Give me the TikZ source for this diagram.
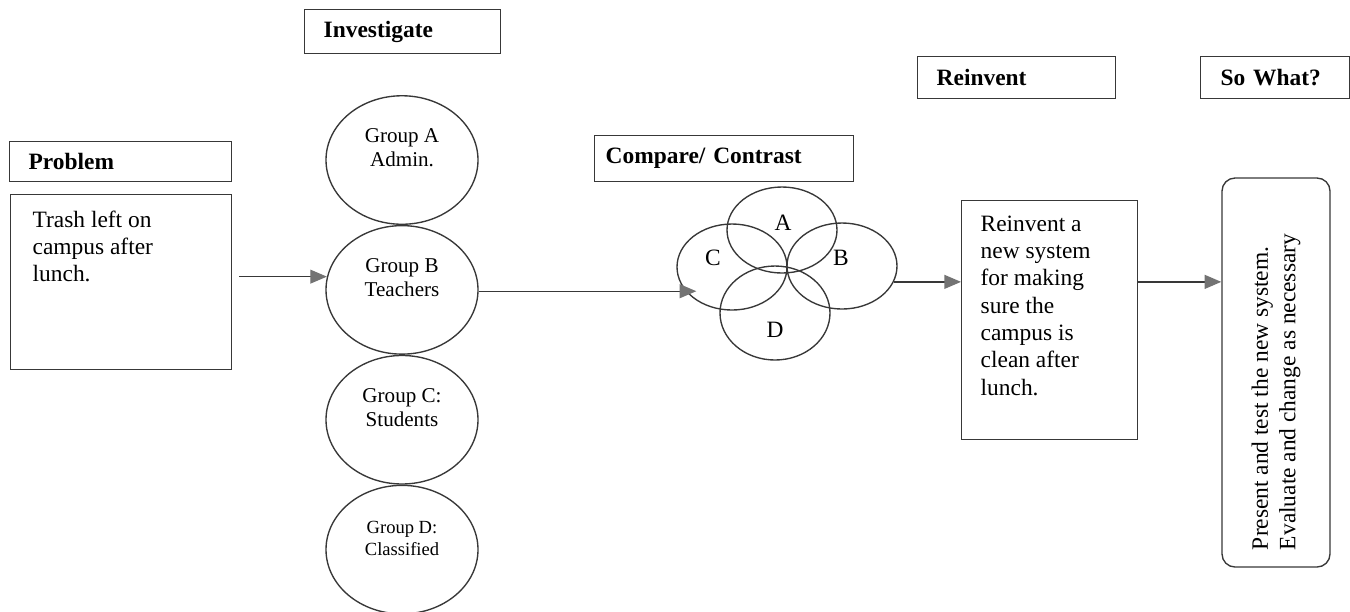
\documentclass[tikz,border=0pt]{standalone}
\usepackage{fontspec}
\setmainfont{Liberation Serif}
\usepackage{tikz}
\usetikzlibrary{positioning, shapes.geometric, arrows.meta}

% one unit = one pixel of the layout grid
\newlength{\pxl}
\setlength{\pxl}{0.018cm}

\definecolor{inkgray}{gray}{0.22}
\definecolor{tipgray}{gray}{0.45}

\tikzset{
    head/.style={draw=inkgray, line width=0.7pt, anchor=north west, align=left,
        inner xsep=19\pxl, inner ysep=0pt, minimum height=40\pxl,
        font=\fontsize{12}{14}\selectfont\bfseries},
    txtbox/.style={draw=inkgray, line width=0.7pt, anchor=north west,
        font=\fontsize{12}{14}\selectfont},
    grp/.style={draw=inkgray, line width=0.7pt, ellipse, inner sep=0pt,
        minimum width=152\pxl, minimum height=128.5\pxl, align=center,
        font=\fontsize{10.8}{12.5}\selectfont},
    venn/.style={draw=inkgray, line width=0.7pt, ellipse, inner sep=0pt,
        minimum width=110\pxl, minimum height=86\pxl},
    arr/.style={draw=inkgray, line width=0.7pt,
        -{Triangle[length=0.3cm, width=0.25cm, color=tipgray]}},
}

\begin{document}
\begin{tikzpicture}[x=0.018cm, y=-0.018cm]
    \useasboundingbox (0,0) rectangle (1350,611);

    % stage headings
    \node[head, text width=184\pxl] (prob) at (9,141) {Problem};
    \node[head, text width=158\pxl, minimum height=44\pxl] (invest) at (304,9) {Investigate};
    \node[head, text width=237\pxl, inner xsep=11\pxl, minimum height=46\pxl] (cmp) at (594,135) {Compare/ Contrast};
    \node[head, text width=160\pxl, minimum height=42\pxl] (reinvhead) at (917,56) {Reinvent};
    \node[head, text width=109\pxl, inner xsep=20\pxl, minimum height=42\pxl] (sowhat) at (1200,56) {So What?};

    % problem statement
    \node[txtbox, inner xsep=22\pxl, inner ysep=16\pxl] (probtxt) at (10,194)
        {\parbox[t][143\pxl][t]{177\pxl}{Trash left on\\campus after\\lunch.}};

    % the four groups, stacked
    \node[grp] (grpA) at (402,160) {Group A\\Admin.\\\mbox{}};
    \node[grp, below=0pt of grpA] (grpB) {Group B\\Teachers\\\mbox{}};
    \node[grp, below=0pt of grpB] (grpC) {Group C:\\Students\\\mbox{}};
    \node[grp, below=0pt of grpC, font=\fontsize{9.5}{11.5}\selectfont] (grpD) {Group D:\\Classified\\\mbox{}};

    % overlapping groups
    \node[venn] (vennA) at (782,230) {};
    \node[venn] (vennC) at (732,267) {};
    \node[venn] (vennB) at (842,266) {};
    \node[venn, minimum height=94\pxl] (vennD) at (775,313) {};
    \node[font=\fontsize{12}{14}\selectfont] (labA) at ([shift={(1,-7)}]vennA.center) {A};
    \node[font=\fontsize{12}{14}\selectfont] (labC) at ([shift={(-19,-9)}]vennC.center) {C};
    \node[font=\fontsize{12}{14}\selectfont] (labB) at ([shift={(-1,-8)}]vennB.center) {B};
    \node[font=\fontsize{12}{14}\selectfont] (labD) at ([shift={(0,17)}]vennD.center) {D};

    % new system
    \node[txtbox, inner xsep=19\pxl, inner ysep=15\pxl] (reinv) at (961,200)
        {\parbox[t][209\pxl][t]{138\pxl}{Reinvent a\\new system\\for making\\sure the\\campus is\\clean after\\lunch.}};

    \node[draw=inkgray, line width=0.7pt, rounded corners=13\pxl, rotate=90,
        minimum width=389\pxl, minimum height=108\pxl, inner xsep=17\pxl,
        font=\fontsize{12}{14}\selectfont] (present) at (1276,372.5)
        {\parbox{355\pxl}{Present and test the new system.\\Evaluate and change as necessary}};

    % flow
    \draw[arr, shorten <=0.126cm] (probtxt.east |- grpB.170) -- (grpB.170);
    \draw[arr, shorten >=-0.36cm] (grpB.-1) -- (grpB.-1 -| vennC.west);
    \draw[arr] (vennB.-17) -- (vennB.-17 -| reinv.west);
    \draw[arr] (reinv.east |- vennB.-17) -- (present.north |- vennB.-17);
\end{tikzpicture}
\end{document}
